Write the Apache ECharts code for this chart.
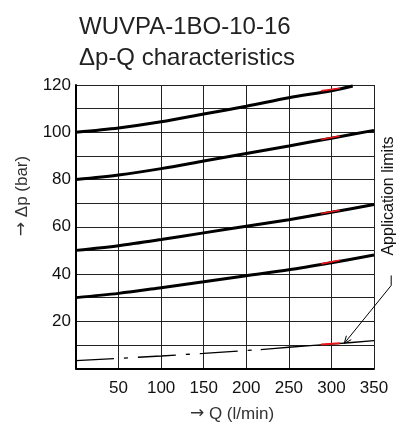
<!DOCTYPE html>
<html><head><meta charset="utf-8">
<script src="https://cdn.jsdelivr.net/npm/echarts@6/dist/echarts.min.js"></script>
<style>html,body{margin:0;padding:0;background:#fff}#c{width:401px;height:427px}</style>
</head><body><div id="c"></div>
<script>
// ---- data ----
const titleLines = ['WUVPA-1BO-10-16', 'Δp-Q characteristics'];
const arrow = '→';
const xName = 'Q (l/min)';
const yName = 'Δp (bar)';
const noteText = 'Application limits';

const qTop = [0, 50, 100, 150, 200, 250, 300, 325];
const dpTop = [100, 101.8, 104.4, 107.7, 111.0, 114.6, 117.6, 119.6];
const qAll = [0, 50, 100, 150, 200, 250, 300, 350];
const dp80 = [80, 81.9, 84.6, 87.8, 91.0, 94.2, 97.5, 100.8];
const dp50 = [50, 52.0, 54.6, 57.4, 60.2, 63.0, 66.1, 69.4];
const dp30 = [30, 31.8, 34.2, 36.7, 39.3, 41.8, 44.8, 48.0];

const qLimitDash = [0, 50, 100, 150, 200, 217];
const dpLimitDash = [3.3, 4.3, 5.3, 6.4, 7.6, 8.0];
const qLimitSolid = [217, 250, 300, 350];
const dpLimitSolid = [8.0, 9.0, 10.3, 11.8];

// red highlights (application limits on each curve)
const qRed = [288, 310];
const redTop = [117.5, 118.6];
const red80 = [96.9, 98.4];
const red50 = [65.6, 67.0];
const red30 = [44.3, 45.8];
const redLimit = [10.2, 10.7];

// tip of the "Application limits" leader (data units)
const leaderTip = [315, 10.6];

const zip = (a, b) => a.map((v, i) => [v, b[i]]);

const chart = echarts.init(document.getElementById('c'), null, {renderer: 'canvas'});
const font = '"Liberation Sans", Arial, Helvetica, sans-serif';

const curve = (q, dp) => ({
  type: 'line', data: zip(q, dp), smooth: 0.3, symbol: 'none',
  lineStyle: {color: '#000', width: 3}, z: 3, silent: true
});
const red = (dp) => ({
  type: 'line', data: zip(qRed, dp), symbol: 'none',
  lineStyle: {color: '#e8141a', width: 1.6}, z: 4, silent: true
});

chart.setOption({
  animation: false,
  backgroundColor: '#fff',
  title: {
    text: titleLines.join('\n'), left: 74, top: 7,
    textStyle: {fontFamily: font, fontSize: 24, fontWeight: 'normal', color: '#222', lineHeight: 31}
  },
  grid: {left: 76, right: 27, top: 85, bottom: 58.5, containLabel: false},
  xAxis: {
    type: 'value', min: 0, max: 350, interval: 50,
    axisLine: {show: true, onZero: false, lineStyle: {color: '#000', width: 2}},
    axisTick: {show: false},
    axisLabel: {margin: 11, fontFamily: font, fontSize: 17, color: '#111',
      formatter: v => v === 0 ? '' : String(v)},
    splitLine: {show: true, lineStyle: {color: '#222', width: 1}}
  },
  yAxis: {
    type: 'value', min: 0, max: 120, interval: 10,
    axisLine: {show: true, onZero: false, lineStyle: {color: '#000', width: 2}},
    axisTick: {show: false},
    axisLabel: {margin: 5, fontFamily: font, fontSize: 17, color: '#111',
      formatter: v => (v > 0 && v % 20 === 0) ? String(v) : ''},
    splitLine: {show: true, lineStyle: {color: '#222', width: 1}}
  },
  series: [
    curve(qTop, dpTop), curve(qAll, dp80), curve(qAll, dp50), curve(qAll, dp30),
    {type: 'line', data: zip(qLimitDash, dpLimitDash), symbol: 'none',
     lineStyle: {color: '#000', width: 1.3, type: [38, 10, 4, 10]}, z: 3, silent: true},
    {type: 'line', data: zip(qLimitSolid, dpLimitSolid), symbol: 'none', smooth: 0.2,
     lineStyle: {color: '#000', width: 1.3}, z: 3, silent: true},
    red(redTop), red(red80), red(red50), red(red30),
    {type: 'line', data: zip(qRed, redLimit), symbol: 'none',
     lineStyle: {color: '#e8141a', width: 2}, z: 4, silent: true}
  ]
});

// leader, arrowhead, axis names and note placed from the chart's own coordinate system
const tip = chart.convertToPixel({gridIndex: 0}, leaderTip);
const bend = [tip[0] + 47, tip[1] - 58];
const end = [bend[0], bend[1] - 10];
const dx = bend[0] - tip[0], dy = bend[1] - tip[1];
const len = Math.hypot(dx, dy), ux = dx / len, uy = dy / len;
const ah = 8, ang = 0.4;
const rot = (x, y, a) => [x * Math.cos(a) - y * Math.sin(a), x * Math.sin(a) + y * Math.cos(a)];
const a1 = rot(ux, uy, ang), a2 = rot(ux, uy, -ang);
const gTL = chart.convertToPixel({gridIndex: 0}, [0, 120]);
const gBR = chart.convertToPixel({gridIndex: 0}, [350, 0]);
const arrowFont = '"DejaVu Sans", sans-serif';
const nameStyle = (txt) => ({
  text: '{a|' + arrow + '} ' + txt, fontFamily: font, fontSize: 17, fill: '#333',
  align: 'center', verticalAlign: 'middle',
  rich: {a: {fontFamily: arrowFont, fontSize: 17, fill: '#333'}}
});

chart.setOption({
  graphic: [
    {type: 'polyline', silent: true, z: 10,
     shape: {points: [tip, bend, end]},
     style: {stroke: '#000', lineWidth: 1, fill: null}},
    {type: 'polyline', silent: true, z: 10,
     shape: {points: [[tip[0] + a1[0] * ah, tip[1] + a1[1] * ah], tip, [tip[0] + a2[0] * ah, tip[1] + a2[1] * ah]]},
     style: {stroke: '#000', lineWidth: 1, fill: null}},
    {type: 'text', silent: true, z: 10, x: 389, y: 196, rotation: Math.PI / 2,
     style: {text: noteText, fontFamily: font, fontSize: 16, fill: '#111', align: 'center', verticalAlign: 'middle'}},
    {type: 'text', silent: true, z: 10, x: 22, y: 196, rotation: Math.PI / 2,
     style: nameStyle(yName)},
    {type: 'text', silent: true, z: 10, x: (gTL[0] + gBR[0]) / 2 + 7, y: 414,
     style: nameStyle(xName)}
  ]
});
</script></body></html>
